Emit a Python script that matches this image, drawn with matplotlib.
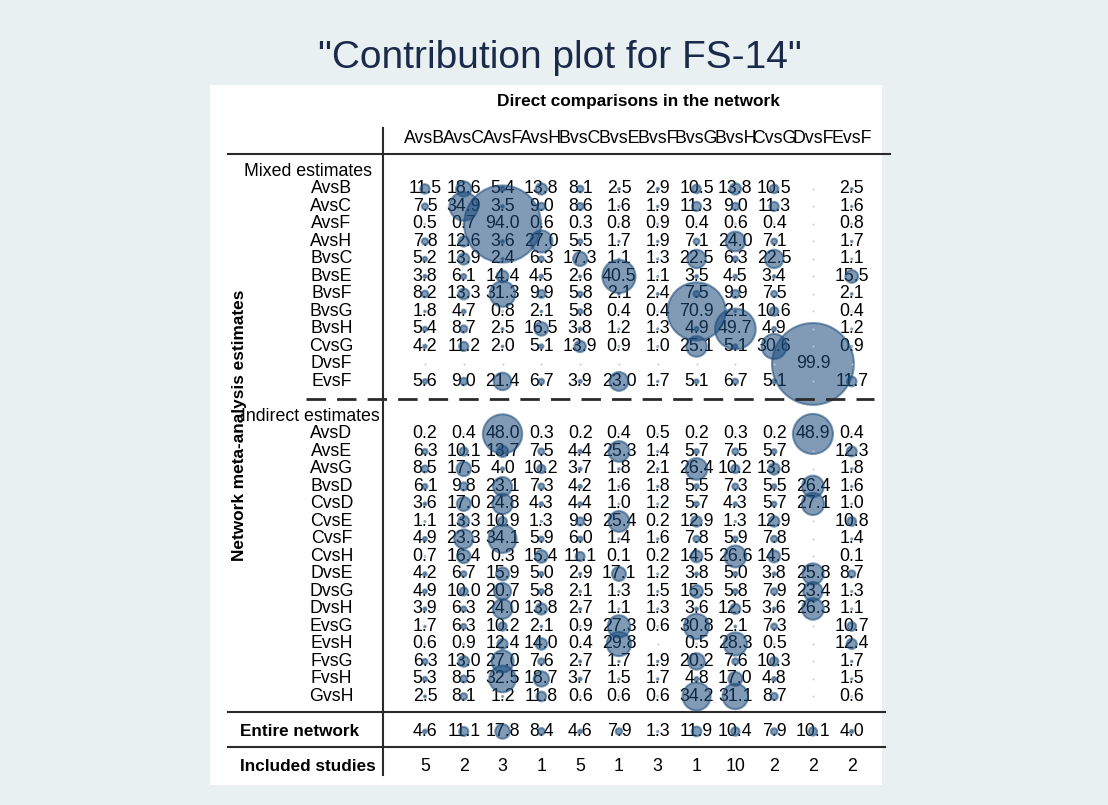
import numpy as np
import matplotlib
matplotlib.use('Agg')
import matplotlib.pyplot as plt

plt.rcParams['font.family'] = ['Liberation Sans', 'DejaVu Sans']

nan = np.nan

comparisons = ['AvsB', 'AvsC', 'AvsF', 'AvsH', 'BvsC', 'BvsE',
               'BvsF', 'BvsG', 'BvsH', 'CvsG', 'DvsF', 'EvsF']

mixed_names = ['AvsB', 'AvsC', 'AvsF', 'AvsH', 'BvsC', 'BvsE',
               'BvsF', 'BvsG', 'BvsH', 'CvsG', 'DvsF', 'EvsF']
mixed = np.array([
    [11.5, 18.6, 5.4, 13.8, 8.1, 2.5, 2.9, 10.5, 13.8, 10.5, nan, 2.5],
    [7.5, 34.9, 3.5, 9.0, 8.6, 1.6, 1.9, 11.3, 9.0, 11.3, nan, 1.6],
    [0.5, 0.7, 94.0, 0.6, 0.3, 0.8, 0.9, 0.4, 0.6, 0.4, nan, 0.8],
    [7.8, 12.6, 3.6, 27.0, 5.5, 1.7, 1.9, 7.1, 24.0, 7.1, nan, 1.7],
    [5.2, 13.9, 2.4, 6.3, 17.3, 1.1, 1.3, 22.5, 6.3, 22.5, nan, 1.1],
    [3.8, 6.1, 14.4, 4.5, 2.6, 40.5, 1.1, 3.5, 4.5, 3.4, nan, 15.5],
    [8.2, 13.3, 31.3, 9.9, 5.8, 2.1, 2.4, 7.5, 9.9, 7.5, nan, 2.1],
    [1.8, 4.7, 0.8, 2.1, 5.8, 0.4, 0.4, 70.9, 2.1, 10.6, nan, 0.4],
    [5.4, 8.7, 2.5, 16.5, 3.8, 1.2, 1.3, 4.9, 49.7, 4.9, nan, 1.2],
    [4.2, 11.2, 2.0, 5.1, 13.9, 0.9, 1.0, 25.1, 5.1, 30.6, nan, 0.9],
    [nan, nan, nan, nan, nan, nan, nan, nan, nan, nan, 99.9, nan],
    [5.6, 9.0, 21.4, 6.7, 3.9, 23.0, 1.7, 5.1, 6.7, 5.1, nan, 11.7],
])

indirect_names = ['AvsD', 'AvsE', 'AvsG', 'BvsD', 'CvsD', 'CvsE', 'CvsF', 'CvsH',
                  'DvsE', 'DvsG', 'DvsH', 'EvsG', 'EvsH', 'FvsG', 'FvsH', 'GvsH']
indirect = np.array([
    [0.2, 0.4, 48.0, 0.3, 0.2, 0.4, 0.5, 0.2, 0.3, 0.2, 48.9, 0.4],
    [6.3, 10.1, 13.7, 7.5, 4.4, 25.3, 1.4, 5.7, 7.5, 5.7, nan, 12.3],
    [8.5, 17.5, 4.0, 10.2, 3.7, 1.8, 2.1, 26.4, 10.2, 13.8, nan, 1.8],
    [6.1, 9.8, 23.1, 7.3, 4.2, 1.6, 1.8, 5.5, 7.3, 5.5, 26.4, 1.6],
    [3.6, 17.0, 24.8, 4.3, 4.4, 1.0, 1.2, 5.7, 4.3, 5.7, 27.1, 1.0],
    [1.1, 13.3, 10.9, 1.3, 9.9, 25.4, 0.2, 12.9, 1.3, 12.9, nan, 10.8],
    [4.9, 23.3, 34.1, 5.9, 6.0, 1.4, 1.6, 7.8, 5.9, 7.8, nan, 1.4],
    [0.7, 16.4, 0.3, 15.4, 11.1, 0.1, 0.2, 14.5, 26.6, 14.5, nan, 0.1],
    [4.2, 6.7, 15.9, 5.0, 2.9, 17.1, 1.2, 3.8, 5.0, 3.8, 25.8, 8.7],
    [4.9, 10.0, 20.7, 5.8, 2.1, 1.3, 1.5, 15.5, 5.8, 7.9, 23.4, 1.3],
    [3.9, 6.3, 24.0, 13.8, 2.7, 1.1, 1.3, 3.6, 12.5, 3.6, 26.3, 1.1],
    [1.7, 6.3, 10.2, 2.1, 0.9, 27.3, 0.6, 30.8, 2.1, 7.3, nan, 10.7],
    [0.6, 0.9, 12.4, 14.0, 0.4, 29.8, nan, 0.5, 28.3, 0.5, nan, 12.4],
    [6.3, 13.0, 27.0, 7.6, 2.7, 1.7, 1.9, 20.2, 7.6, 10.3, nan, 1.7],
    [5.3, 8.5, 32.5, 18.7, 3.7, 1.5, 1.7, 4.8, 17.0, 4.8, nan, 1.5],
    [2.5, 8.1, 1.2, 11.8, 0.6, 0.6, 0.6, 34.2, 31.1, 8.7, nan, 0.6],
])

entire = np.array([[4.6, 11.1, 17.8, 8.4, 4.6, 7.9, 1.3, 11.9, 10.4, 7.9, 10.1, 4.0]])
studies = [5, 2, 3, 1, 5, 1, 3, 1, 10, 2, 2, 2]

FS = 12.8
ncol = len(comparisons)
cols = np.arange(ncol)

mixed_y = np.arange(len(mixed_names))
indirect_y = len(mixed_names) + 2 + np.arange(len(indirect_names))
entire_y = indirect_y[-1] + 2
studies_y = entire_y + 2

fig = plt.figure(figsize=(11.08, 8.05), dpi=100, facecolor='#e8f0f2')
fig.text(0.5054, 0.928, '"Contribution plot for FS-14"', ha='center', va='center',
         fontsize=28, color='#1b2a4a')

ax = fig.add_axes([210/1108, 20/805, 672/1108, 700/805])
ax.set_facecolor('white')
ax.set_xlim(-5.54, 11.78)
ax.set_ylim(34.06, -5.94)
ax.set_xticks([])
ax.set_yticks([])
for s in ax.spines.values():
    s.set_visible(False)


def draw_block(vals, ys):
    X, Y = np.meshgrid(cols, ys)
    empty = np.isnan(vals)
    ax.scatter(X[~empty], Y[~empty], s=(0.59 * vals[~empty])**2,
               facecolor='#1a4a7a', edgecolor='#1a4a7a', alpha=0.55,
               linewidths=1.5, zorder=3)
    ax.scatter(X[empty], Y[empty], s=2, color='#c8c8c8', linewidths=0, zorder=3)
    for (i, j), v in np.ndenumerate(vals):
        if not np.isnan(v):
            ax.text(cols[j], ys[i], f'{v:.1f}', ha='center', va='center',
                    fontsize=FS, zorder=2)


draw_block(mixed, mixed_y)
draw_block(indirect, indirect_y)
draw_block(entire, [entire_y])

for j, n in enumerate(studies):
    ax.text(cols[j], studies_y, str(n), ha='center', va='center', fontsize=FS)

# headers and labels
ax.text(5.49, -4.97, 'Direct comparisons in the network', ha='center', va='center',
        fontsize=12.4, fontweight='bold')
for j, c in enumerate(comparisons):
    ax.text(cols[j], -2.91, c, ha='center', va='center', fontsize=FS)

ax.text(-4.66, -1, 'Mixed estimates', ha='left', va='center', fontsize=FS)
ax.text(-4.75, len(mixed_names) + 1, 'Indirect estimates', ha='left', va='center', fontsize=FS)
for y, n in zip(mixed_y, mixed_names):
    ax.text(-2.41, y, n, ha='center', va='center', fontsize=FS)
for y, n in zip(indirect_y, indirect_names):
    ax.text(-2.41, y, n, ha='center', va='center', fontsize=FS)

ax.text(-4.77, entire_y, 'Entire network', ha='left', va='center',
        fontsize=12.3, fontweight='bold')
ax.text(-4.77, studies_y, 'Included studies', ha='left', va='center',
        fontsize=12.3, fontweight='bold')
ax.text(-4.77, 13.49, 'Network meta-analysis estimates', rotation=90, ha='center',
        va='center', fontsize=12.4, fontweight='bold', zorder=5)

# rules
lc = '#2a2a2a'
ax.plot([-5.08, 11.98], [-2, -2], color=lc, lw=1.5, clip_on=False)
ax.plot([-1.08, -1.08], [-3.5, 33.5], color=lc, lw=1.5)
ax.plot([-3.06, 11.57], [12, 12], color=lc, lw=2, ls=(0, (7, 4)), zorder=4)
ax.plot([-5.08, 11.85], [entire_y - 1.1, entire_y - 1.1], color=lc, lw=1.5, clip_on=False)
ax.plot([-5.08, 11.85], [studies_y - 1.1, studies_y - 1.1], color=lc, lw=1.5, clip_on=False)

fig.savefig('out.png', dpi=100, facecolor=fig.get_facecolor())
